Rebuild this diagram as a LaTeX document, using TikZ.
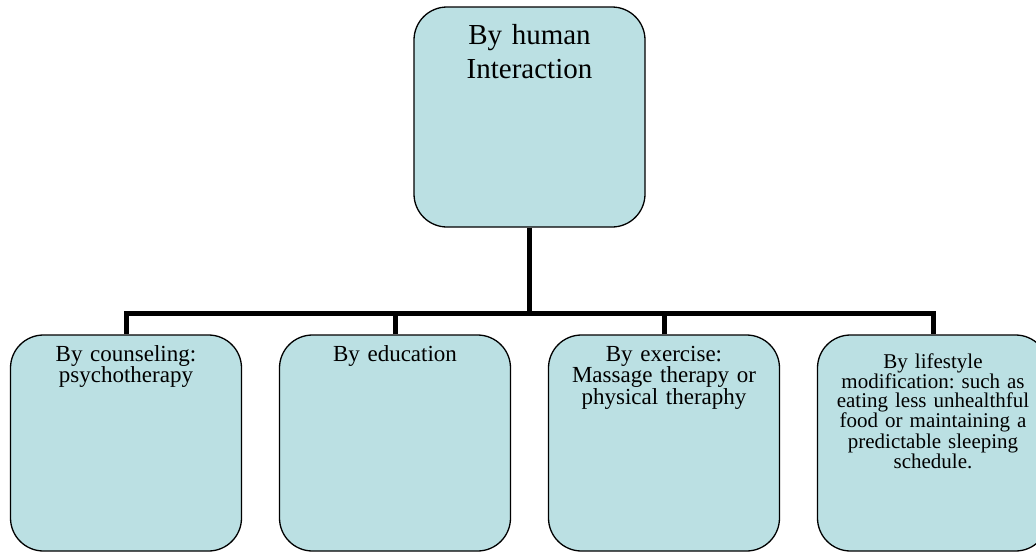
\documentclass[tikz,border=0pt]{standalone}
\usepackage{fontspec}
\setmainfont{Liberation Serif}
\usetikzlibrary{positioning}
\definecolor{boxfill}{RGB}{187,224,227}

\begin{document}
\frenchspacing
\begin{tikzpicture}[x=1pt,y=-1pt,node distance=269pt,on grid,
    box/.style={draw,line width=1.3pt,fill=boxfill,rounded corners=33pt,
      minimum width=231pt,minimum height=216pt,inner sep=0pt},
    txt/.style={align=center,anchor=base,inner sep=0pt,text width=228pt},
    link/.style={line width=5pt}]
   \clip (0,0) rectangle (1036,552);
   \node[box,minimum height=220pt] (n_0) at (529.5,117) {};
   \node[box] (n_1) at (126,443) {};
   \node[box] (n_2) [right=of n_1] {};
   \node[box] (n_3) [right=of n_2] {};
   \node[box] (n_4) [right=of n_3] {};
   % texts
   \node[txt,font=\fontsize{29}{34}\selectfont] (t_0) at ([yshift=-38pt]n_0.north) {By human\\Interaction};
   \node[txt,font=\fontsize{23}{21.5}\selectfont] (t_1) at ([yshift=-27pt]n_1.north) {By counseling:\\psychotherapy};
   \node[txt,font=\fontsize{23}{21.5}\selectfont] (t_2) at ([yshift=-27pt]n_2.north) {By education};
   \node[txt,font=\fontsize{23}{21.5}\selectfont] (t_3) at ([yshift=-27pt]n_3.north) {By exercise:\\Massage therapy or\\physical theraphy};
   \node[txt,font=\fontsize{21}{19}\selectfont] (t_4) at ([yshift=-34pt]n_4.north) {By lifestyle\\modification: such as\\eating less unhealthful\\food or maintaining a\\predictable sleeping\\schedule.};
   % links
   \coordinate (j) at (529.5,313);
   \draw[link] (n_0) -- (j);
   \draw[link] (n_1.north) |- (j) -| (n_4.north);
   \draw[link] (n_2.north) -- (n_2.north |- j);
   \draw[link] (n_3.north) -- (n_3.north |- j);
\end{tikzpicture}
\end{document}
